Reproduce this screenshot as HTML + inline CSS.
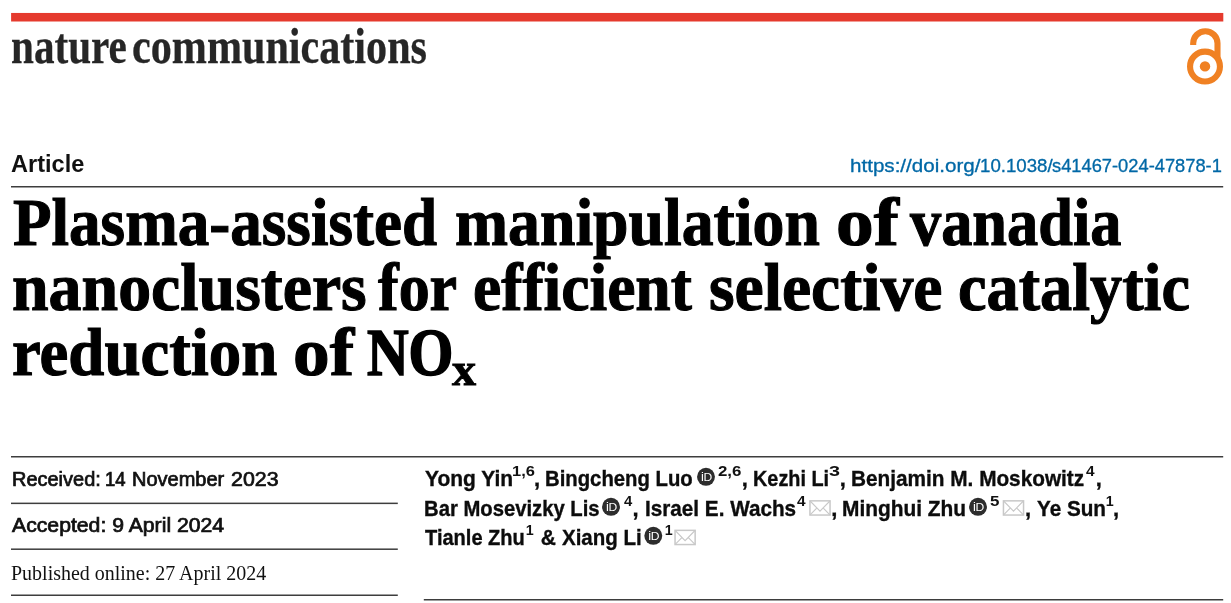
<!DOCTYPE html>
<html lang="en">
<head>
<meta charset="utf-8">
<title>Plasma-assisted manipulation of vanadia nanoclusters for efficient selective catalytic reduction of NOx | Nature Communications</title>
<style>
html,body{margin:0;padding:0;background:#fff;}
body{width:1231px;height:603px;position:relative;overflow:hidden;font-family:"Liberation Sans",sans-serif;color:#000;}
h1,p,header,section{margin:0;padding:0;font-weight:normal;font-size:0;}
.abs{position:absolute;white-space:pre;line-height:1;transform-origin:0 0;display:block;}
.oa{position:absolute;left:1186px;top:27px;}
.bg{position:absolute;left:0;top:0;}
.jn{font:bold 51px/1 "Liberation Serif",serif;color:#262626;-webkit-text-stroke:0.3px #262626;}
.at{font:bold 24.2px/1 "Liberation Sans",sans-serif;color:#111;}
.doi{font:19px/1 "Liberation Sans",sans-serif;color:#0068a6;text-decoration:none;-webkit-text-stroke:0.32px #0068a6;}
.t{font:bold 67.2px/1 "Liberation Serif",serif;color:#000;-webkit-text-stroke:1.1px #000;}
.tn{font:bold 67.2px/1 "Liberation Serif",serif;color:#000;-webkit-text-stroke:1.7px #000;}
.ts{font:bold 46px/1 "Liberation Serif",serif;color:#000;-webkit-text-stroke:0.9px #000;}
.dt{font:19.5px/1 "Liberation Sans",sans-serif;color:#111;-webkit-text-stroke:0.7px #111;}
.pb{font:20.4px/1 "Liberation Serif",serif;color:#111;}
.au{font:bold 22px/1 "Liberation Sans",sans-serif;color:#0c0c0c;-webkit-text-stroke:0.35px #0c0c0c;}
.sp{font:bold 14.3px/1 "Liberation Sans",sans-serif;color:#111;}
.ic{position:absolute;display:block;}
</style>
</head>
<body>
<header>
<svg class="bg" width="1231" height="603" viewBox="0 0 1231 603">
<rect x="11.1" y="12.95" width="1212.2" height="8.55" fill="#e53a2d"/>
<g fill="#3d3d3d">
<rect x="11" y="186.0" width="1212.2" height="1.5"/>
<rect x="11" y="456.0" width="1212.2" height="1.5"/>
<rect x="11" y="502.6" width="386.8" height="1.5"/>
<rect x="11" y="548.45" width="386.8" height="1.5"/>
<rect x="11" y="594.5" width="386.8" height="1.5"/>
<rect x="423.8" y="599.0" width="799.4" height="1.5"/>
</g>
</svg>
<div class="journal"><span class="abs jn" style="left:10.59px;top:21.00px;transform:scaleX(0.8070)">nature </span><span class="abs jn" style="left:131.55px;top:21.00px;transform:scaleX(0.8263)">communications</span></div>
<svg class="oa" width="39" height="60" viewBox="0 0 39 60">
<path d="M7.2 18.1 V16.35 A12.15 12.15 0 0 1 31.5 16.35 V31" fill="none" stroke="#f08123" stroke-width="6.1"/>
<circle cx="19" cy="39.6" r="14.95" fill="none" stroke="#f08123" stroke-width="6.1"/>
<circle cx="19" cy="39.4" r="5.2" fill="#f08123"/>
</svg>
<div class="kind"><span class="abs at" style="left:10.83px;top:152.00px;transform:scaleX(0.9740)">Article</span></div>
<a class="doilink"><span class="abs doi" style="left:849.92px;top:156.00px;transform:scaleX(1.0840)">https://doi.org/</span><span class="abs doi" style="left:979.72px;top:156.00px;transform:scaleX(0.9822)">10.1038/</span><span class="abs doi" style="left:1051.64px;top:156.00px;transform:scaleX(0.9629)">s41467-024-47878-1</span></a>
</header>
<h1><span class="abs t" style="left:12.56px;top:189.00px;transform:scaleX(0.9389)">Plasma-assisted </span><span class="abs t" style="left:455.05px;top:189.00px;transform:scaleX(0.9486)">manipulation </span><span class="abs t" style="left:836.06px;top:189.00px;transform:scaleX(1.1218)">of </span><span class="abs t" style="left:910.23px;top:189.00px;transform:scaleX(0.9281)">vanadia </span><span class="abs t" style="left:12.32px;top:254.00px;transform:scaleX(0.9797)">nanoclusters </span><span class="abs t" style="left:378.30px;top:254.00px;transform:scaleX(0.9224)">for </span><span class="abs t" style="left:473.11px;top:254.00px;transform:scaleX(0.9465)">efficient </span><span class="abs t" style="left:709.02px;top:254.00px;transform:scaleX(0.9776)">selective </span><span class="abs t" style="left:958.09px;top:254.00px;transform:scaleX(0.9563)">catalytic </span><span class="abs t" style="left:12.34px;top:319.00px;transform:scaleX(0.9648)">reduction </span><span class="abs t" style="left:292.82px;top:319.00px;transform:scaleX(1.0909)">of </span><span class="abs tn" style="left:366.90px;top:319.00px;transform:scaleX(0.8571)">NO</span><span class="abs ts" style="left:451.70px;top:347.00px;transform:scaleX(1.0478)">x</span></h1>
<section class="dates">
<p><span class="abs dt" style="left:11.98px;top:470.00px;transform:scaleX(1.0238)">Received: </span><span class="abs dt" style="left:105.05px;top:470.00px;transform:scaleX(0.9500)">14 </span><span class="abs dt" style="left:131.67px;top:470.00px;transform:scaleX(1.0258)">November </span><span class="abs dt" style="left:231.20px;top:470.00px;transform:scaleX(1.0952)">2023</span></p>
<p><span class="abs dt" style="left:12.00px;top:516.00px;transform:scaleX(1.0872)">Accepted: 9 April 2024</span></p>
<p><span class="abs pb" style="left:11.02px;top:563.00px;transform:scaleX(0.9795)">Published online: 27 April 2024</span></p>
</section>
<section class="authors">
<p><span class="abs au" style="left:425.00px;top:468.00px;transform:scaleX(0.9527)">Yong Yin</span><span class="abs sp" style="left:512.15px;top:464.00px;transform:scaleX(1.1500)">1,6</span><span class="abs au" style="left:534.00px;top:468.00px">, </span><span class="abs au" style="left:545.08px;top:468.00px;transform:scaleX(0.9226)">Bingcheng Luo</span><span class="abs sp" style="left:718.30px;top:464.00px;transform:scaleX(1.1789)">2,6</span><span class="abs au" style="left:741.70px;top:468.00px">, </span><span class="abs au" style="left:753.40px;top:468.00px;transform:scaleX(0.9024)">Kezhi Li</span><span class="abs sp" style="left:828.62px;top:464.00px;transform:scaleX(1.3833)">3</span><span class="abs au" style="left:839.70px;top:468.00px">, </span><span class="abs au" style="left:850.76px;top:468.00px;transform:scaleX(0.9443)">Benjamin M. Moskowitz</span><span class="abs sp" style="left:1085.70px;top:464.00px;transform:scaleX(1.0750)">4</span><span class="abs au" style="left:1095.70px;top:468.00px">, </span></p>
<p><span class="abs au" style="left:424.08px;top:498.00px;transform:scaleX(0.9206)">Bar Mosevizky Lis</span><span class="abs sp" style="left:624.00px;top:494.00px;transform:scaleX(1.0375)">4</span><span class="abs au" style="left:632.60px;top:498.00px">, </span><span class="abs au" style="left:645.16px;top:498.00px;transform:scaleX(0.9409)">Israel E. Wachs</span><span class="abs sp" style="left:797.30px;top:494.00px;transform:scaleX(1.0750)">4</span><span class="abs au" style="left:831.30px;top:498.00px">, </span><span class="abs au" style="left:842.35px;top:498.00px;transform:scaleX(0.9488)">Minghui Zhu</span><span class="abs sp" style="left:989.51px;top:494.00px;transform:scaleX(1.1857)">5</span><span class="abs au" style="left:1025.00px;top:498.00px">, </span><span class="abs au" style="left:1037.30px;top:498.00px;transform:scaleX(0.9403)">Ye Sun</span><span class="abs sp" style="left:1105.70px;top:494.00px">1</span><span class="abs au" style="left:1113.00px;top:498.00px">, </span></p>
<p><span class="abs au" style="left:425.00px;top:527.00px;transform:scaleX(0.9110)">Tianle Zhu</span><span class="abs sp" style="left:525.70px;top:523.00px">1</span><span class="abs au" style="left:535.03px;top:527.00px;transform:scaleX(0.9533)"> &amp; </span><span class="abs au" style="left:561.70px;top:527.00px;transform:scaleX(0.9321)">Xiang Li</span><span class="abs sp" style="left:664.70px;top:523.00px">1</span></p>
<svg class="bg icons" width="1231" height="603" viewBox="0 0 1231 603">
<g transform="translate(697.00 467.80)"><circle cx="9" cy="9" r="8.95" fill="#2d2d2d"/><text x="3.9" y="13.3" font-family="Liberation Sans, sans-serif" font-size="13" fill="#fff">i</text><text transform="translate(6.5 13.3) scale(1.1 1)" font-family="Liberation Sans, sans-serif" font-size="11" fill="#fff">D</text></g>
<g transform="translate(602.00 497.80)"><circle cx="9" cy="9" r="8.95" fill="#2d2d2d"/><text x="3.9" y="13.3" font-family="Liberation Sans, sans-serif" font-size="13" fill="#fff">i</text><text transform="translate(6.5 13.3) scale(1.1 1)" font-family="Liberation Sans, sans-serif" font-size="11" fill="#fff">D</text></g>
<g transform="translate(809.20 500.10)"><rect x="0.75" y="0.75" width="20.1" height="14.2" fill="#fff" stroke="#c8c8c8" stroke-width="1.5"/><path d="M0.9 0.9 L10.8 11.0 L20.7 0.9 M0.9 14.8 L7.3 8.2 M20.7 14.8 L14.3 8.2" fill="none" stroke="#c8c8c8" stroke-width="1.1"/></g>
<g transform="translate(969.00 497.80)"><circle cx="9" cy="9" r="8.95" fill="#2d2d2d"/><text x="3.9" y="13.3" font-family="Liberation Sans, sans-serif" font-size="13" fill="#fff">i</text><text transform="translate(6.5 13.3) scale(1.1 1)" font-family="Liberation Sans, sans-serif" font-size="11" fill="#fff">D</text></g>
<g transform="translate(1002.70 500.10)"><rect x="0.75" y="0.75" width="20.1" height="14.2" fill="#fff" stroke="#c8c8c8" stroke-width="1.5"/><path d="M0.9 0.9 L10.8 11.0 L20.7 0.9 M0.9 14.8 L7.3 8.2 M20.7 14.8 L14.3 8.2" fill="none" stroke="#c8c8c8" stroke-width="1.1"/></g>
<g transform="translate(644.30 526.80)"><circle cx="9" cy="9" r="8.95" fill="#2d2d2d"/><text x="3.9" y="13.3" font-family="Liberation Sans, sans-serif" font-size="13" fill="#fff">i</text><text transform="translate(6.5 13.3) scale(1.1 1)" font-family="Liberation Sans, sans-serif" font-size="11" fill="#fff">D</text></g>
<g transform="translate(674.30 529.60)"><rect x="0.75" y="0.75" width="20.1" height="14.2" fill="#fff" stroke="#c8c8c8" stroke-width="1.5"/><path d="M0.9 0.9 L10.8 11.0 L20.7 0.9 M0.9 14.8 L7.3 8.2 M20.7 14.8 L14.3 8.2" fill="none" stroke="#c8c8c8" stroke-width="1.1"/></g>
</svg>
</section>
</body>
</html>
